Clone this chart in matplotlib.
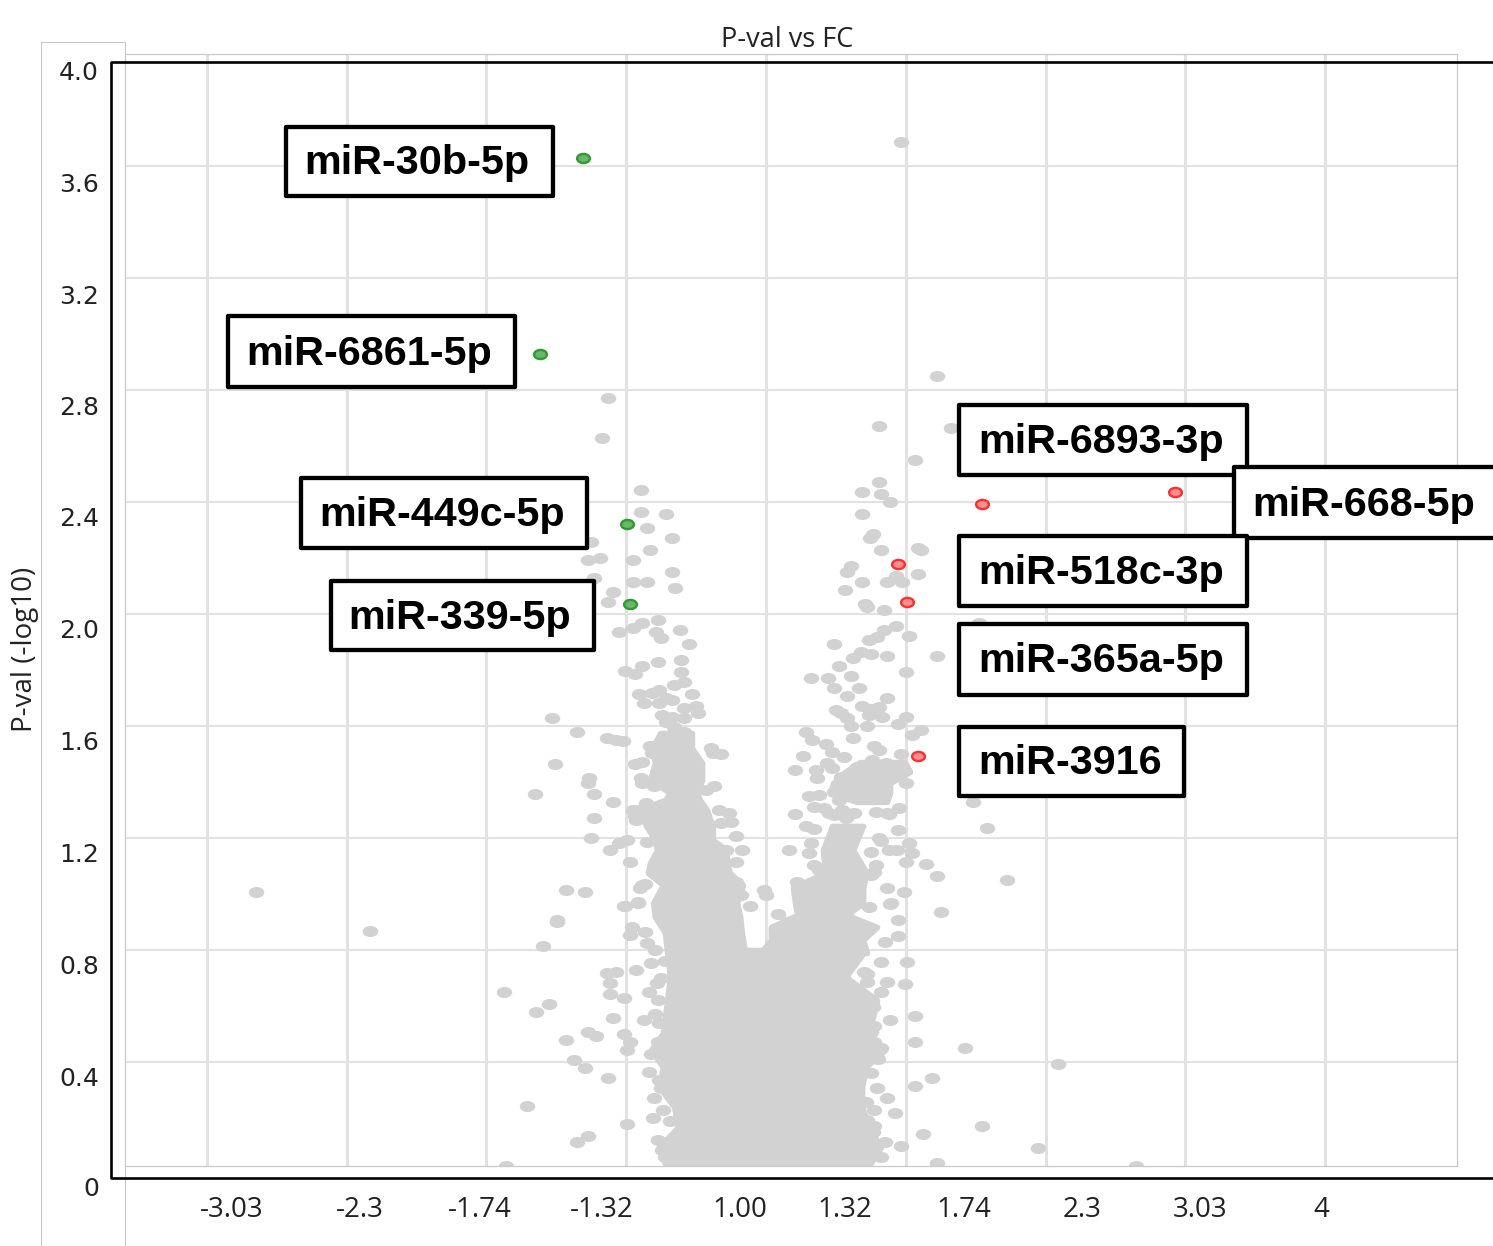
#!/usr/bin/env python3
"""Volcano plot of miRNA p-value vs fold change"""

import matplotlib
matplotlib.use("Agg")
import matplotlib.pyplot as plt
from matplotlib.lines import Line2D
from matplotlib.path import Path
from matplotlib.patches import FancyBboxPatch
from matplotlib.transforms import Affine2D
import numpy as np

W, H = 1493, 1246

y_ticks = [0.4, 0.8, 1.2, 1.6, 2.0, 2.4, 2.8, 3.2, 3.6]
x_ticks = [-1.6, -1.2, -0.8, -0.4, 0, 0.4, 0.8, 1.2, 1.6]
y_labels = ["4.0", "3.6", "3.2", "2.8", "2.4", "2.0", "1.6", "1.2", "0.8", "0.4", "0"]
x_labels = ["-3.03", "-2.3", "-1.74", "-1.32", "1.00", "1.32", "1.74", "2.3", "3.03", "4"]

# (log2 FC, -log10 p)
far_points = [
    (-1.46, 1.007), (-1.133, 0.868), (0.836, 0.393), (0.778, 0.093), (1.059, 0.029),
    (-0.75, 0.65), (-0.684, 0.243), (-0.744, 0.029), (0.386, 3.686), (0.489, 2.85),
    (0.61, 1.968), (0.489, 1.85), (0.69, 1.05), (0.633, 1.236), (0.592, 1.329),
    (0.618, 0.171), (0.57, 0.45), (0.489, 0.039), (0.501, 0.936),
]
upper_left = [
    (-0.452, 2.771), (-0.469, 2.629), (-0.358, 2.443), (-0.358, 2.364), (-0.286, 2.357),
    (-0.34, 2.307), (-0.269, 2.271), (-0.332, 2.229), (-0.381, 2.193), (-0.501, 2.257),
    (-0.509, 2.193), (-0.475, 2.2), (-0.269, 2.15), (-0.381, 2.114), (-0.34, 2.114),
    (-0.492, 2.129), (-0.26, 2.093), (-0.438, 2.079), (-0.452, 2.043), (-0.421, 1.936),
    (-0.381, 1.95), (-0.355, 1.968), (-0.309, 1.979), (-0.315, 1.936), (-0.246, 1.943),
    (-0.3, 1.914), (-0.22, 1.893), (-0.243, 1.836), (-0.309, 1.829), (-0.355, 1.814),
    (-0.404, 1.796), (-0.375, 1.786), (-0.243, 1.793), (-0.235, 1.757), (-0.263, 1.746),
    (-0.306, 1.729), (-0.326, 1.718), (-0.363, 1.714), (-0.212, 1.714), (-0.286, 1.7),
    (-0.269, 1.693), (-0.349, 1.682), (-0.306, 1.682), (-0.2, 1.671), (-0.235, 1.664),
    (-0.195, 1.646), (-0.298, 1.639), (-0.269, 1.632), (-0.235, 1.629), (-0.286, 1.614),
    (-0.263, 1.596), (-0.235, 1.579),
]
mid_left = [
    (-0.612, 1.629), (-0.541, 1.579), (-0.455, 1.557), (-0.429, 1.55), (-0.409, 1.546),
    (-0.292, 1.557), (-0.258, 1.557), (-0.229, 1.543), (-0.332, 1.529), (-0.157, 1.521),
    (-0.152, 1.504), (-0.129, 1.5), (-0.326, 1.504), (-0.243, 1.486), (-0.604, 1.464),
    (-0.375, 1.464), (-0.355, 1.471), (-0.507, 1.414), (-0.509, 1.396), (-0.358, 1.414),
    (-0.355, 1.396), (-0.661, 1.357), (-0.492, 1.357), (-0.321, 1.386), (-0.172, 1.371),
    (-0.149, 1.386), (-0.438, 1.329), (-0.492, 1.271), (-0.501, 1.2), (-0.398, 1.193),
    (-0.421, 1.182), (-0.446, 1.157), (-0.389, 1.114), (-0.572, 1.014), (-0.518, 1.007),
    (-0.404, 0.957), (-0.366, 0.971), (-0.598, 0.907), (-0.34, 1.186), (-0.135, 1.3),
    (-0.106, 1.289), (-0.1, 1.257), (-0.129, 1.254), (-0.086, 1.207), (-0.114, 1.157),
    (-0.069, 1.157), (-0.086, 1.114), (-0.086, 1.043), (-0.072, 0.996), (-0.046, 0.957),
    (-0.006, 1.014), (0.0, 0.996), (-0.343, 1.325), (-0.363, 1.3), (-0.372, 1.264),
    (-0.355, 1.032), (-0.38, 1.3), (-0.375, 1.28), (-0.345, 1.036), (-0.36, 1.02),
]
low_left = [
    (-0.598, 0.9), (-0.638, 0.814), (-0.406, 0.957), (-0.366, 0.968), (-0.384, 0.882),
    (-0.389, 0.854), (-0.346, 0.864), (-0.34, 0.825), (-0.318, 0.8), (-0.329, 0.754),
    (-0.372, 0.729), (-0.455, 0.718), (-0.429, 0.721), (-0.446, 0.682), (-0.446, 0.643),
    (-0.406, 0.629), (-0.335, 0.65), (-0.312, 0.682), (-0.621, 0.607), (-0.658, 0.579),
    (-0.438, 0.557), (-0.349, 0.55), (-0.318, 0.571), (-0.572, 0.479), (-0.509, 0.507),
    (-0.487, 0.493), (-0.406, 0.5), (-0.389, 0.471), (-0.398, 0.443), (-0.329, 0.429),
    (-0.55, 0.407), (-0.518, 0.379), (-0.452, 0.343), (-0.335, 0.364), (-0.306, 0.336),
    (-0.3, 0.307), (-0.398, 0.179), (-0.323, 0.2), (-0.295, 0.229), (-0.509, 0.136),
    (-0.541, 0.114), (-0.298, 0.086), (-0.31, 0.62), (-0.305, 0.54), (-0.31, 0.47),
    (-0.32, 0.27), (-0.275, 0.19), (-0.31, 0.12), (-0.29, 0.06), (-0.29, 0.76), (-0.3, 0.7),
]
upper_right = [
    (0.323, 2.671), (0.529, 2.664), (0.426, 2.55), (0.323, 2.471), (0.275, 2.436),
    (0.329, 2.429), (0.355, 2.4), (0.275, 2.357), (0.306, 2.286), (0.298, 2.271),
    (0.329, 2.229), (0.435, 2.236), (0.444, 2.229), (0.243, 2.171), (0.232, 2.15),
    (0.435, 2.143), (0.372, 2.136), (0.275, 2.114), (0.346, 2.114), (0.389, 2.114),
    (0.226, 2.086), (0.283, 2.036), (0.289, 2.025), (0.338, 2.014), (0.195, 1.893),
    (0.409, 1.921), (0.372, 1.957), (0.338, 1.943), (0.318, 1.918), (0.295, 1.907),
    (0.346, 1.85), (0.3, 1.857), (0.272, 1.864), (0.249, 1.843), (0.209, 1.814),
    (0.401, 1.793), (0.129, 1.771), (0.177, 1.771), (0.243, 1.779), (0.195, 1.736),
    (0.266, 1.736), (0.232, 1.707), (0.346, 1.7), (0.275, 1.671), (0.3, 1.661),
    (0.323, 1.668), (0.2, 1.657), (0.215, 1.646), (0.295, 1.639), (0.332, 1.632),
    (0.232, 1.629), (0.401, 1.632), (0.243, 1.6), (0.289, 1.6), (0.378, 1.607),
    (0.444, 1.586), (0.418, 1.568),
]
mid_right = [
    (0.114, 1.579), (0.132, 1.55), (0.249, 1.557), (0.172, 1.536), (0.309, 1.529),
    (0.323, 1.514), (0.189, 1.507), (0.386, 1.5), (0.106, 1.493), (0.223, 1.489),
    (0.083, 1.443), (0.175, 1.468), (0.143, 1.443), (0.189, 1.45), (0.26, 1.454),
    (0.303, 1.479), (0.343, 1.468), (0.395, 1.443), (0.146, 1.414), (0.215, 1.418),
    (0.272, 1.425), (0.323, 1.432), (0.372, 1.443), (0.401, 1.396), (0.246, 1.389),
    (0.295, 1.396), (0.343, 1.407), (0.195, 1.364), (0.238, 1.364), (0.286, 1.361),
    (0.332, 1.364), (0.275, 1.343), (0.315, 1.346), (0.123, 1.35), (0.152, 1.354),
    (0.209, 1.336), (0.137, 1.311), (0.166, 1.307), (0.218, 1.3), (0.252, 1.289),
    (0.195, 1.282), (0.315, 1.293), (0.352, 1.286), (0.381, 1.307), (0.083, 1.286),
    (0.114, 1.243), (0.137, 1.232), (0.378, 1.229), (0.323, 1.2), (0.409, 1.182),
    (0.066, 1.157), (0.129, 1.182), (0.123, 1.146), (0.3, 1.15), (0.352, 1.157),
    (0.375, 1.157), (0.418, 1.146), (0.401, 1.114), (0.458, 1.107), (0.489, 1.064),
    (0.137, 1.104), (0.152, 1.086), (0.315, 1.104), (0.3, 1.068), (0.089, 1.043),
    (0.346, 1.021), (0.395, 1.007), (0.358, 0.968), (0.295, 0.954),
    (0.18, 1.29), (0.23, 1.27), (0.345, 1.29), (0.33, 1.19), (0.31, 1.08),
    (0.035, 0.93), (0.06, 0.9), (0.03, 0.87),
]
low_right = [
    (0.355, 0.964), (0.378, 0.907), (0.378, 0.85), (0.341, 0.829), (0.329, 0.757),
    (0.404, 0.757), (0.289, 0.714), (0.289, 0.686), (0.346, 0.686), (0.398, 0.679),
    (0.329, 0.65), (0.306, 0.596), (0.355, 0.55), (0.426, 0.564), (0.3, 0.507),
    (0.426, 0.471), (0.329, 0.45), (0.475, 0.343), (0.426, 0.314), (0.318, 0.307),
    (0.346, 0.271), (0.369, 0.218), (0.286, 0.257), (0.289, 0.193), (0.306, 0.15),
    (0.449, 0.143), (0.341, 0.114), (0.386, 0.1), (0.312, 0.093), (0.28, 0.72),
    (0.3, 0.6), (0.31, 0.53), (0.31, 0.47), (0.32, 0.41), (0.3, 0.36), (0.31, 0.23),
    (0.31, 0.17), (0.33, 0.06),
]

# merged parts of the cloud, too overplotted for single points: (p, left FC, right FC)
left_leg = [
    (1.575, -0.303, -0.212), (1.521, -0.326, -0.212), (1.468, -0.318, -0.183),
    (1.407, -0.332, -0.183), (1.361, -0.275, -0.197), (1.336, -0.289, -0.189),
    (1.3, -0.366, -0.169), (1.239, -0.341, -0.152), (1.193, -0.318, -0.152),
    (1.157, -0.312, -0.112), (1.111, -0.332, -0.112), (1.075, -0.338, -0.103),
    (1.032, -0.295, -0.066), (0.968, -0.323, -0.083), (0.918, -0.318, -0.074),
    (0.861, -0.289, -0.069), (0.789, -0.283, -0.06),
]
right_cluster = [
    (1.471, 0.269, 0.398), (1.436, 0.226, 0.412), (1.396, 0.192, 0.355),
    (1.361, 0.183, 0.355), (1.329, 0.26, 0.346),
]
right_leg = [
    (1.243, 0.189, 0.278), (1.157, 0.163, 0.249), (1.075, 0.169, 0.289),
    (1.025, 0.077, 0.278), (0.968, 0.083, 0.278), (0.925, 0.089, 0.232),
    (0.882, 0.014, 0.318), (0.836, 0.014, 0.278), (0.789, -0.017, 0.289),
]
core = [
    (0.8, -0.283, 0.285), (0.704, -0.275, 0.229), (0.621, -0.283, 0.318),
    (0.504, -0.295, 0.295), (0.443, -0.329, 0.341), (0.382, -0.295, 0.286),
    (0.311, -0.306, 0.275), (0.239, -0.263, 0.275), (0.168, -0.252, 0.295),
    (0.096, -0.306, 0.329), (0.0, -0.278, 0.280),
]

green_points = [(-0.524, 3.629), (-0.647, 2.929), (-0.398, 2.321), (-0.389, 2.036)]
red_points = [(0.618, 2.393), (1.171, 2.436), (0.378, 2.179), (0.404, 2.043), (0.435, 1.493)]

mir_names = ["miR-30b-5p", "miR-6861-5p", "miR-449c-5p", "miR-339-5p", "miR-6893-3p",
             "miR-668-5p", "miR-518c-3p", "miR-365a-5p", "miR-3916"]

GRAY = "#d2d2d2"
GRID = "#e2e2e2"
FRAME = "#c9c9c9"
OPEN = ["Open Sans", "DejaVu Sans"]

fig = plt.figure(figsize=(W / 100, H / 100), dpi=100)
ax = fig.add_axes([125 / W, (H - 1166) / H, (1457 - 125) / W, (1166 - 54) / H])


def fx(x):
    return x / W


def fy(y):
    return 1 - y / H


def fig_line(xs, ys, color, lw, z=5):
    fig.add_artist(Line2D([fx(v) for v in xs], [fy(v) for v in ys], color=color, lw=lw,
                          transform=fig.transFigure, zorder=z, solid_capstyle="projecting"))


# axis scales: gridlines 0.4 apart, same as the original
ax.set_xlim((125 - 766) / 349.4, (1457 - 766) / 349.4)
ax.set_ylim((1174 - 1166) / 280, 4.0)
ax.set_xticks(x_ticks)
ax.set_yticks(y_ticks)
ax.tick_params(length=0, labelbottom=False, labelleft=False)
ax.set_axisbelow(True)
ax.grid(axis="x", color=GRID, lw=2.2)
ax.grid(axis="y", color=GRID, lw=1.5)
for s in ax.spines.values():
    s.set_color(FRAME)
    s.set_linewidth(0.9)

ellipse = Path.unit_circle().transformed(Affine2D().scale(1.4, 1.0))

for rows in (left_leg, right_cluster, right_leg, core):
    arr = np.array(rows)
    ax.fill_betweenx(arr[:, 0], arr[:, 1], arr[:, 2], color=GRAY, lw=4, zorder=2)

gray_points = far_points + upper_left + mid_left + low_left + upper_right + mid_right + low_right
gx, gy = zip(*gray_points)
ax.scatter(gx, gy, s=125, marker=ellipse, color=GRAY, linewidths=0, zorder=2)

gx, gy = zip(*green_points)
ax.scatter(gx, gy, s=85, marker=ellipse, facecolor="#6cb56c", edgecolor="#2e9b2e", linewidths=1.7, zorder=3)
gx, gy = zip(*red_points)
ax.scatter(gx, gy, s=85, marker=ellipse, facecolor="#ff8f8f", edgecolor="#ff2e2e", linewidths=1.7, zorder=3)

# outer pale frame around the chart object
fig_line([41, 41, 125, 125], [1246, 42, 42, 54], FRAME, 0.8)
fig_line([125, 125], [1166, 1246], FRAME, 0.8)

# black axis lines pasted over the chart
fig_line([1493, 111, 111, 1493], [62, 62, 1178, 1178], "black", 1.9, z=6)

fig.text(fx(787), fy(40), "P-val vs FC", family=OPEN, fontsize=19.5, ha="center", va="center", color="#222222")
fig.text(fx(25), fy(649), "P-val (-log10)", family=OPEN, fontsize=20, rotation=90,
         ha="center", va="center", color="#222222")

y_label_px = [71, 183, 294, 406, 517, 629, 741, 852, 964, 1076, 1187]
for lab, py in zip(y_labels, y_label_px):
    fig.text(fx(99), fy(py + 2.5), lab, family="DejaVu Sans", fontsize=18, ha="right", va="center", color="#222222")

x_label_px = [232, 360, 480, 602, 740, 845, 964, 1082, 1200, 1321]
for lab, px in zip(x_labels, x_label_px):
    fig.text(fx(px), fy(1210), lab, family=OPEN, fontsize=20, ha="center", va="center", color="#222222")

# label boxes: left, top, right, bottom in pixels
boxes = [
    (286, 127, 553, 196), (228, 316, 515, 387), (301, 478, 587, 548),
    (331, 581, 594, 650), (959, 405, 1247, 475), (1234, 467, 1500, 538),
    (959, 536, 1247, 606), (959, 624, 1247, 695), (959, 727, 1184, 796),
]
text_left = [304, 246, 319, 348, 978, 1252, 978, 978, 978]
for name, (l, t, r, b), tx in zip(mir_names, boxes, text_left):
    fig.add_artist(FancyBboxPatch((fx(l), fy(b)), (r - l) / W, (b - t) / H, boxstyle="square,pad=0",
                                  transform=fig.transFigure, facecolor="white", edgecolor="black",
                                  lw=3.1, joinstyle="round", zorder=8))
    fig.text(fx(tx), fy((t + b) / 2 + 2), name, family="Liberation Sans", fontweight="bold", fontsize=29.8,
             ha="left", va="center", color="black", zorder=9)

fig.savefig("out.png", dpi=100)
